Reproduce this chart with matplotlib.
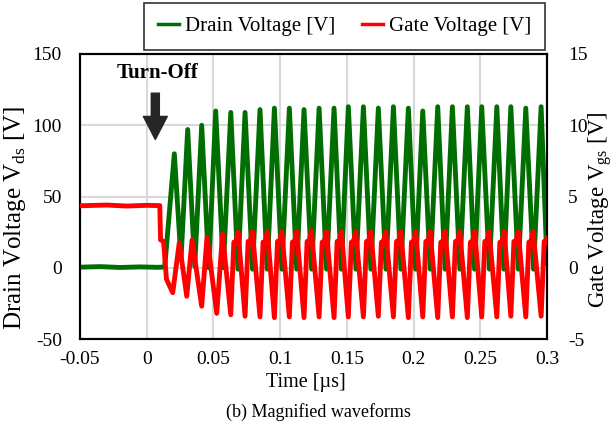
import numpy as np
import matplotlib
matplotlib.use('Agg')
import matplotlib.pyplot as plt
from matplotlib.lines import Line2D

plt.rcParams['font.family'] = 'Liberation Serif'
plt.rcParams['mathtext.fontset'] = 'custom'
plt.rcParams['mathtext.rm'] = 'Liberation Serif'
plt.rcParams['axes.unicode_minus'] = False

# drain voltage [V] (time in us)
drain_pre_t = [-0.05, -0.035, -0.02, -0.005, 0.008, 0.0135]
drain_pre_v = [0.4, 0.8, 0.2, 0.6, 0.3, 0.5]
drain_peak_t = [0.0207, 0.0307, 0.0412, 0.0517, 0.0630, 0.0737, 0.0849, 0.0957, 0.1069,
                0.1179, 0.1292, 0.1404, 0.1511, 0.1624, 0.1736, 0.1849, 0.1961, 0.2069,
                0.2181, 0.2291, 0.2403, 0.2511, 0.2624, 0.2729, 0.2841, 0.2956]
drain_peak_v = [80, 97, 100, 110, 109, 109, 111, 112, 112, 111, 112, 112, 113,
                113, 112, 113, 112, 110, 113, 113, 113, 113, 113, 113, 112, 113]
drain_trough_t = [0.0257, 0.0360, 0.0465, 0.0574, 0.0684, 0.0793, 0.0903, 0.1013, 0.1124,
                  0.1236, 0.1348, 0.1458, 0.1568, 0.1680, 0.1793, 0.1905, 0.2015, 0.2125,
                  0.2236, 0.2347, 0.2457, 0.2568, 0.2677, 0.2785, 0.2899, 0.3000]
drain_trough_v = [6, 1, 0, 0, -1, -1, -1, -1, -1, -1, -1, -1, -1,
                  -1, -1, -1, -1, -1, -1, -1, -1, -1, -1, -1, -1, 3]

# gate voltage [V]
gate_pre_t = [-0.05, -0.03, -0.015, 0.0, 0.0098, 0.0104, 0.0126, 0.0148, 0.0195, 0.0244,
              0.0300, 0.0340, 0.0412, 0.0452, 0.0525, 0.0568]
gate_pre_v = [4.35, 4.4, 4.33, 4.38, 4.36, 1.95, 1.85, -0.8, -1.75, 1.75,
              -2.0, 1.95, -2.7, 2.15, -3.2, 2.35]
gate_trough_t = [0.0630, 0.0737, 0.0849, 0.0957, 0.1069, 0.1179, 0.1292, 0.1404, 0.1511,
                 0.1624, 0.1736, 0.1849, 0.1961, 0.2069, 0.2181, 0.2291, 0.2403, 0.2511,
                 0.2624, 0.2729, 0.2841, 0.2956]
gate_trough_v = [-3.3, -3.4, -3.45, -3.5, -3.45, -3.5, -3.45, -3.5, -3.45, -3.45, -3.4,
                 -3.45, -3.5, -3.45, -3.5, -3.45, -3.5, -3.45, -3.45, -3.4, -3.45, -3.4]
gate_shoulder_t = [0.0653, 0.0760, 0.0872, 0.0980, 0.1092, 0.1202, 0.1315, 0.1427, 0.1534,
                   0.1647, 0.1759, 0.1872, 0.1984, 0.2092, 0.2204, 0.2314, 0.2426, 0.2534,
                   0.2647, 0.2752, 0.2864, 0.2979]
gate_shoulder_v = [1.8, 1.85, 1.8, 1.85, 1.8, 1.85, 1.8, 1.85, 1.8, 1.85, 1.8,
                   1.85, 1.8, 1.85, 1.8, 1.85, 1.8, 1.85, 1.8, 1.85, 1.8, 1.85]
gate_notch_t = [0.0664, 0.0771, 0.0883, 0.0991, 0.1103, 0.1213, 0.1326, 0.1438, 0.1545,
                0.1658, 0.1770, 0.1883, 0.1995, 0.2103, 0.2215, 0.2325, 0.2437, 0.2545,
                0.2658, 0.2763, 0.2875, 0.2990]
gate_notch_v = [1.65, 1.7, 1.65, 1.7, 1.65, 1.7, 1.65, 1.7, 1.65, 1.7, 1.65,
                1.7, 1.65, 1.7, 1.65, 1.7, 1.65, 1.7, 1.65, 1.7, 1.65, 1.7]
gate_peak_t = [0.0685, 0.0792, 0.0904, 0.1012, 0.1124, 0.1234, 0.1347, 0.1459, 0.1566,
               0.1679, 0.1791, 0.1904, 0.2016, 0.2124, 0.2236, 0.2346, 0.2458, 0.2566,
               0.2679, 0.2784, 0.2896, 0.3000]
gate_peak_v = [2.5, 2.55, 2.55, 2.55, 2.55, 2.6, 2.55, 2.55, 2.55, 2.55, 2.55,
               2.55, 2.55, 2.55, 2.55, 2.55, 2.55, 2.55, 2.55, 2.55, 2.55, 2.1]

x_ticks = [-0.05, 0, 0.05, 0.1, 0.15, 0.2, 0.25, 0.3]
x_labels = ['-0.05', '0', '0.05', '0.1', '0.15', '0.2', '0.25', '0.3']
vds_ticks = [-50, 0, 50, 100, 150]
vgs_ticks = [-5, 0, 5, 10, 15]


def merge(*pairs):
    t = np.concatenate([p[0] for p in pairs])
    v = np.concatenate([p[1] for p in pairs])
    order = np.argsort(t)
    return t[order], v[order]


drain_t, drain_v = merge((drain_pre_t, drain_pre_v), (drain_peak_t, drain_peak_v),
                         (drain_trough_t, drain_trough_v))
gate_t, gate_v = merge((gate_pre_t, gate_pre_v), (gate_trough_t, gate_trough_v),
                       (gate_shoulder_t, gate_shoulder_v), (gate_notch_t, gate_notch_v),
                       (gate_peak_t, gate_peak_v))

green = '#006e00'
red = '#ff0000'

fig = plt.figure(figsize=(6.16, 4.32), dpi=100)
ax = fig.add_axes([80/616, 1-339/432, 467/616, 285/432])
ax2 = ax.twinx()

ax.plot(drain_t, drain_v, color=green, lw=3.5, solid_joinstyle='round', zorder=3)
ax2.plot(gate_t, gate_v, color=red, lw=3.5, solid_joinstyle='round', zorder=3)

ax.set_xlim(-0.05, 0.3)
ax.set_ylim(-50, 150)
ax2.set_ylim(-5, 15)
ax.set_xticks(x_ticks)
ax.set_xticklabels(x_labels)
ax.set_yticks(vds_ticks)
ax2.set_yticks(vgs_ticks)
ax.grid(True, color='#d9d9d9', lw=1.5, zorder=0)
ax.set_axisbelow(True)

ax.tick_params(axis='x', length=0, pad=9, labelsize=14)
ax.tick_params(axis='y', length=0, pad=13, labelsize=14)
ax2.tick_params(axis='y', length=0, pad=15, labelsize=14)
for a in (ax, ax2):
    for s in a.spines.values():
        s.set_linewidth(1.5)
        s.set_color('black')

ax.set_ylabel(r'Drain Voltage V$_{\rm ds}$ [V]', fontsize=18, va='center')
ax.yaxis.set_label_coords(-0.140, 0.425)
ax2.set_ylabel(r'Gate Voltage V$_{\rm gs}$ [V]', fontsize=16.5, va='center', rotation=90)
ax2.yaxis.set_label_coords(1.1156, 0.454)
ax.set_xlabel('Time [\u00b5s]', fontsize=14.5, va='center')
ax.xaxis.set_label_coords(0.484, -0.154)

ax.text(0.0081, 137, 'Turn-Off', fontsize=15, fontweight='bold', ha='center', va='center')
ax.annotate('', xy=(0.00645, 90), xytext=(0.00645, 122.5),
            arrowprops=dict(arrowstyle='simple,head_length=0.83,head_width=0.86,tail_width=0.29',
                            mutation_scale=20, color='#262626', shrinkA=0, shrinkB=0))

handles = [Line2D([], [], color=green, lw=2.5), Line2D([], [], color=red, lw=2.5)]
leg = fig.legend(handles, ['Drain Voltage [V]', 'Gate Voltage [V]'], loc='upper right',
                 bbox_to_anchor=(545/616, 1-3/432), ncol=2, fontsize=15, frameon=True,
                 fancybox=False, edgecolor='#333333', framealpha=1, handlelength=1.0,
                 handletextpad=0.3, columnspacing=1.3, borderpad=0.65, borderaxespad=0)
leg.get_frame().set_linewidth(1.2)

fig.text(318.8/616, 1-412/432, '(b) Magnified waveforms', fontsize=13, ha='center', va='center')

fig.savefig('out.png', dpi=100)
